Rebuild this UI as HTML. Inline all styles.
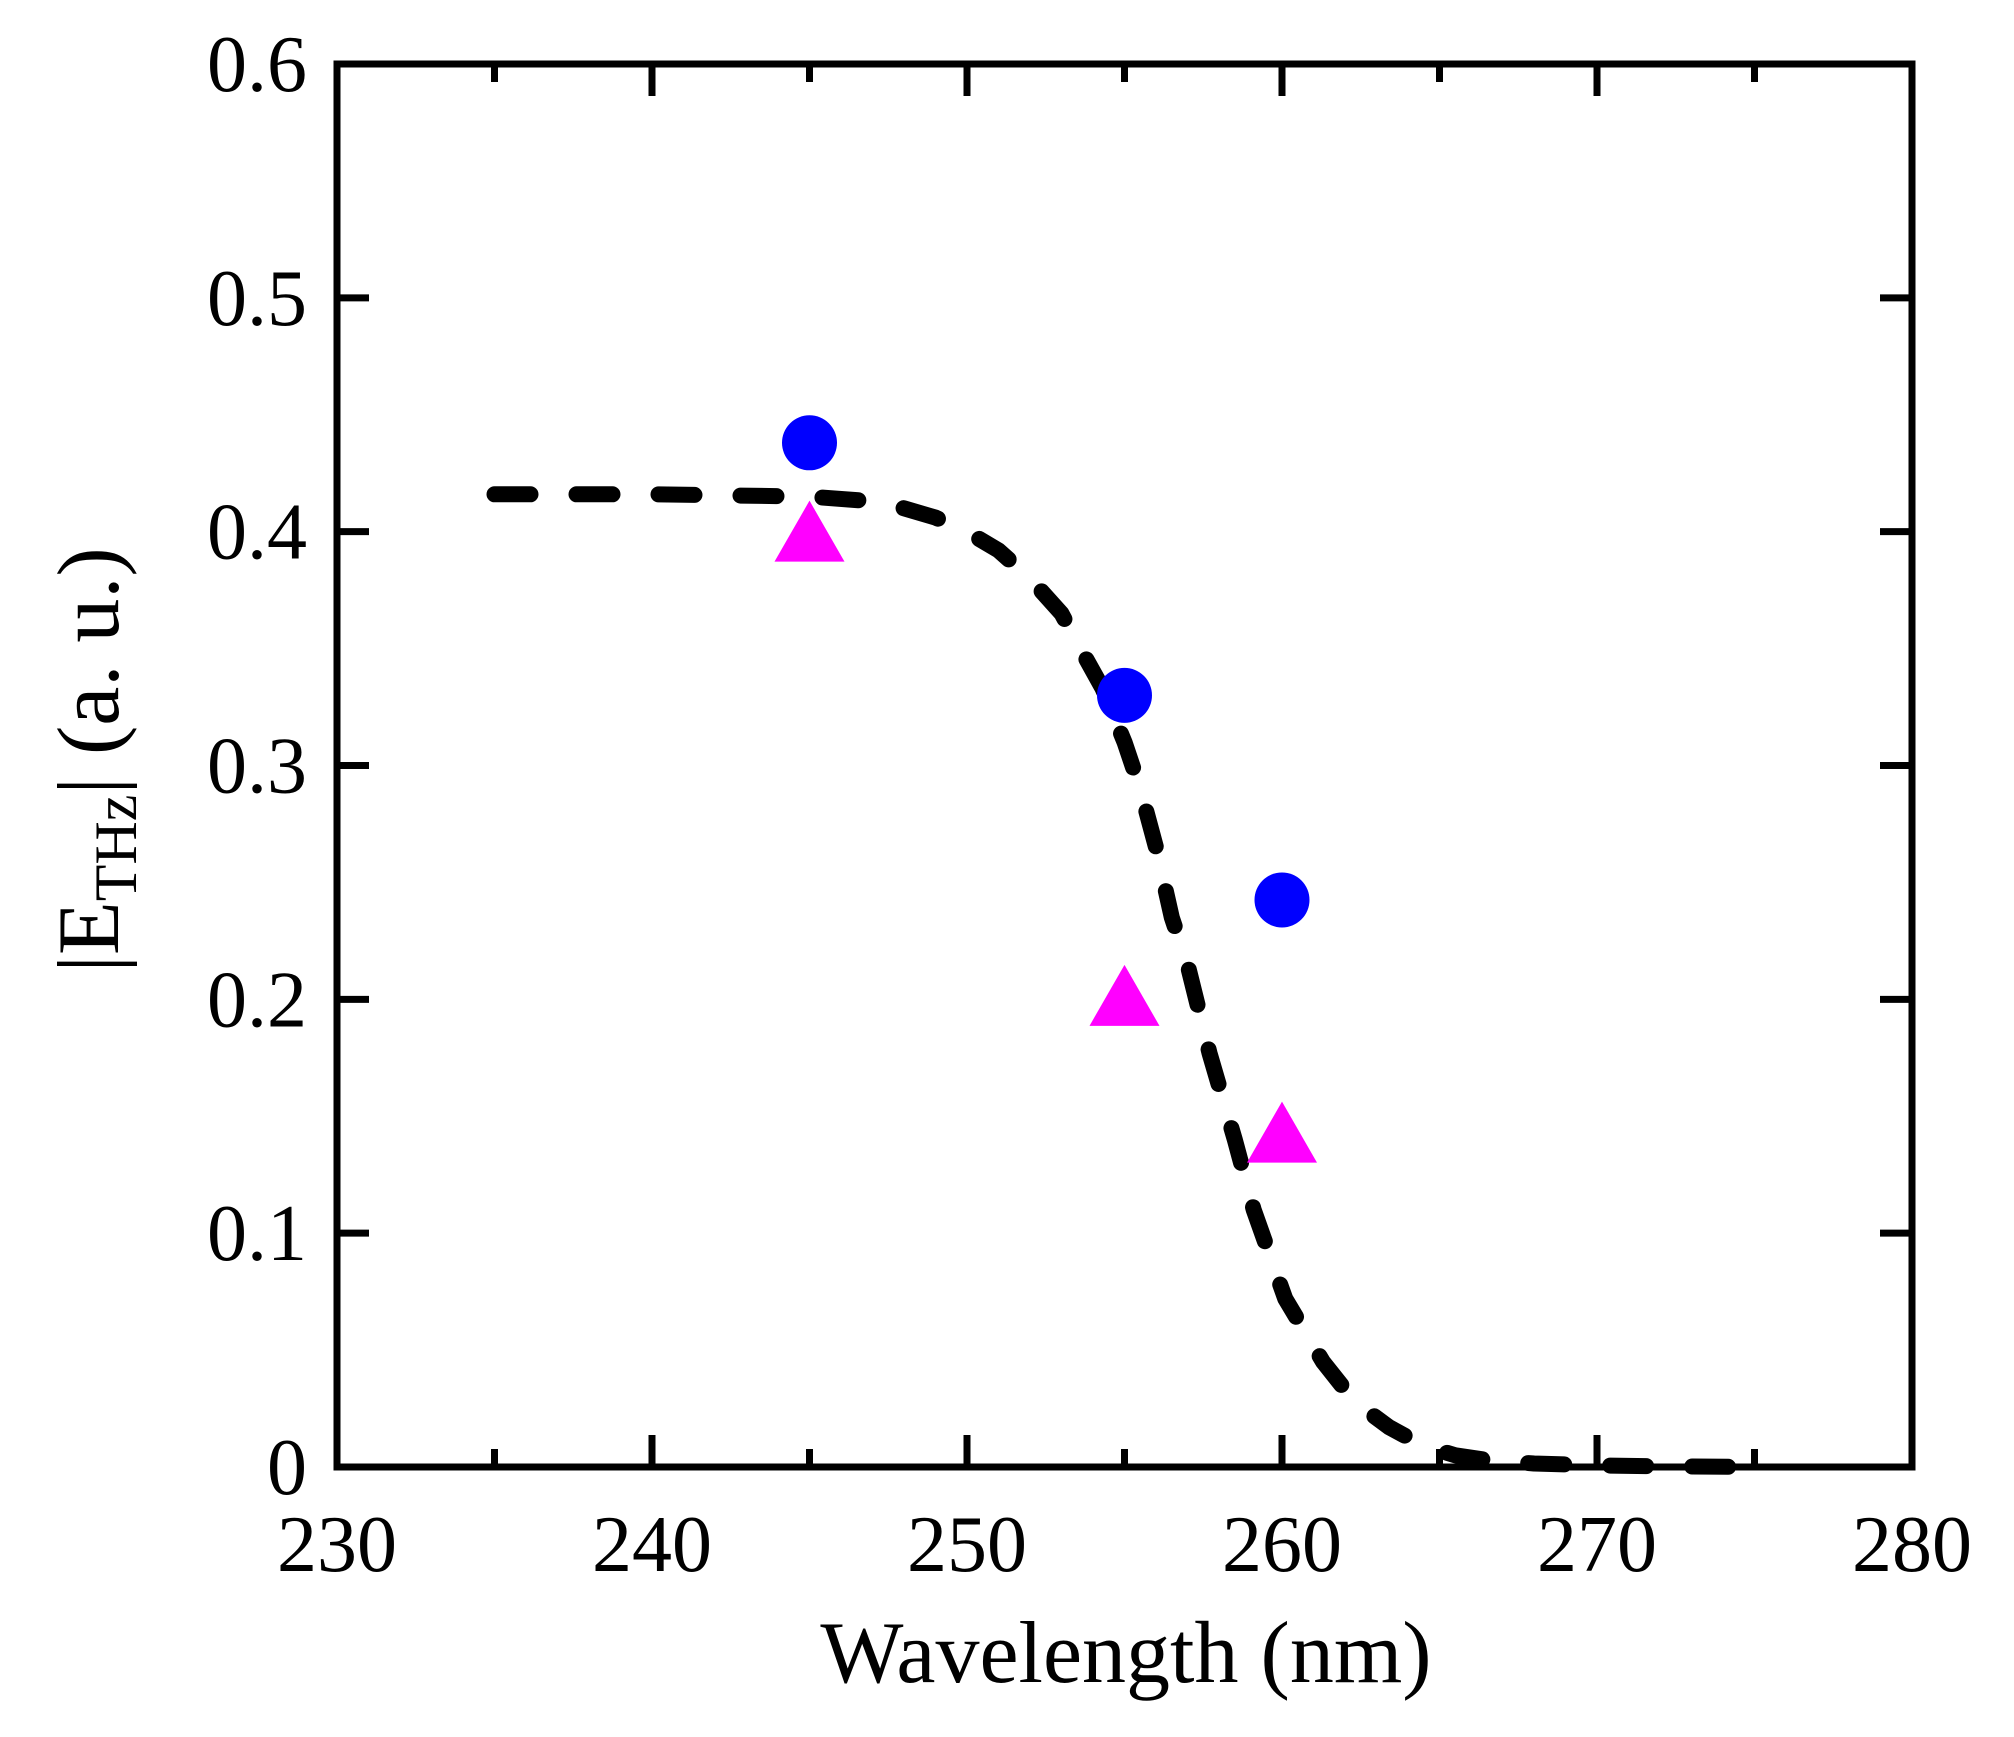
<!DOCTYPE html>
<html><head><meta charset="utf-8"><style>
html,body{margin:0;padding:0;background:#fff;}
svg{display:block;font-family:"Liberation Serif",serif;}
</style></head><body>
<svg id="chart" width="2014" height="1737" viewBox="0 0 2014 1737" xmlns="http://www.w3.org/2000/svg">
<rect width="2014" height="1737" fill="#fff"/>
<g id="curve"></g>
<g id="marks"></g>
<g id="axes"></g>
<text x="1126" y="1682" font-size="88" text-anchor="middle">Wavelength (nm)</text>
<text transform="translate(118,760) rotate(-90)" font-size="88" text-anchor="middle">|E<tspan font-size="60" dy="18">THz</tspan><tspan dy="-18">| (a. u.)</tspan></text>
</svg>
<script>
const xTicks=[230,240,250,260,270,280];
const yTicks=[0,0.1,0.2,0.3,0.4,0.5,0.6];
const yTickLabels=["0","0.1","0.2","0.3","0.4","0.5","0.6"];
const wlPoints=[245,255,260];
const circleValues=[0.438,0.330,0.2425];
const triangleValues=[0.397,0.1985,0.140];
const curveX=[235,240,245,247,248,249,250,251,252,253,253.6,254.3,255,255.5,256,256.5,257,257.7,258.5,259.1,260.1,261.3,262.3,263.4,264.5,265.5,266.5,268,270,272,275];
const curveY=[0.416,0.416,0.415,0.413,0.41,0.406,0.40,0.392,0.38,0.365,0.35,0.333,0.31,0.29,0.265,0.235,0.215,0.177,0.14,0.11,0.072,0.045,0.028,0.017,0.009,0.005,0.003,0.0015,0.0007,0.0003,0];
const X0=337,X1=1912,Y0=1467,Y1=64;
const xs=v=>X0+(v-230)/50*(X1-X0);
const ys=v=>Y0-(v/0.6)*(Y0-Y1);
const NS="http://www.w3.org/2000/svg";
function mk(tag,attrs,parent){const e=document.createElementNS(NS,tag);for(const k in attrs)e.setAttribute(k,attrs[k]);parent.appendChild(e);return e;}
const axes=document.getElementById('axes');
let d=curveX.map((x,i)=>(i?'L':'M')+xs(x).toFixed(1)+','+ys(curveY[i]).toFixed(1)).join(' ');
const p=mk('path',{d:d,fill:'none',stroke:'#000','stroke-width':16,'stroke-dasharray':'36 46','stroke-linecap':'round','stroke-linejoin':'round'},document.getElementById('curve'));


const marks=document.getElementById('marks');
wlPoints.forEach((w,i)=>{
  const c=mk('circle',{cx:xs(w),cy:ys(circleValues[i]),r:27.5,fill:'#0000ff'},marks);
  
  
  const cx=xs(w),cy=ys(triangleValues[i]);
  const t=mk('polygon',{points:`${cx},${cy-38} ${cx-35},${cy+23} ${cx+35},${cy+23}`,fill:'#ff00ff'},marks);
  
  
});
const fr=mk('rect',{x:X0,y:Y1,width:X1-X0,height:Y0-Y1,fill:'none',stroke:'#000','stroke-width':7},axes);


for(let v=230;v<=280;v+=5){
  const major=(v%10===0), L=major?32:18, x=xs(v);
  const t1=mk('line',{x1:x,y1:Y0,x2:x,y2:Y0-L,stroke:'#000','stroke-width':7},axes);
  
  
  const t2=mk('line',{x1:x,y1:Y1,x2:x,y2:Y1+L,stroke:'#000','stroke-width':7},axes);
  
  
}
xTicks.forEach(v=>{
  const t=mk('text',{x:xs(v),y:Y0+104,'font-size':80,'text-anchor':'middle'},axes);
  t.textContent=v;
  
  
});
yTicks.forEach((v,i)=>{
  const y=ys(v);
  const a=mk('line',{x1:X0,y1:y,x2:X0+32,y2:y,stroke:'#000','stroke-width':7},axes);
  
  
  const b=mk('line',{x1:X1,y1:y,x2:X1-32,y2:y,stroke:'#000','stroke-width':7},axes);
  
  
  const t=mk('text',{x:X0-30,y:y+27,'font-size':80,'text-anchor':'end'},axes);
  t.textContent=yTickLabels[i];
  
  
});
</script>
</body></html>
